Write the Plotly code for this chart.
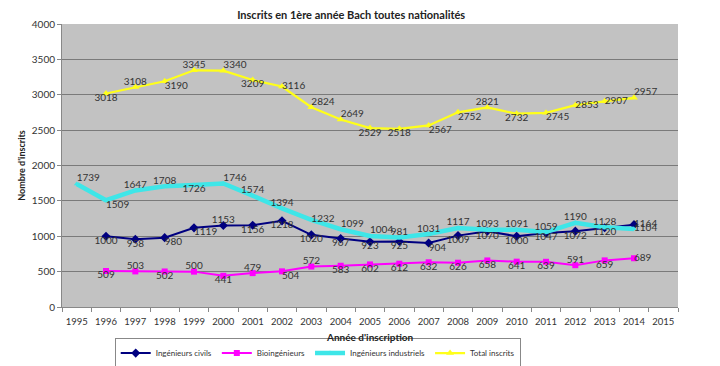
import plotly.graph_objects as go

years = [str(y) for y in range(1995, 2016)]
years_main = [str(y) for y in range(1996, 2015)]
years_ind = [str(y) for y in range(1995, 2015)]

civils = [1000, 958, 980, 1119, 1153, 1156, 1218, 1020, 967, 923, 925, 904, 1009, 1070, 1000, 1047, 1072, 1120, 1164]
bio = [509, 503, 502, 500, 441, 479, 504, 572, 583, 602, 612, 632, 626, 658, 641, 639, 591, 659, 689]
industriels = [1739, 1509, 1647, 1708, 1726, 1746, 1574, 1394, 1232, 1099, 1004, 981, 1031, 1117, 1093, 1091, 1059, 1190, 1128, 1104]
total = [3018, 3108, 3190, 3345, 3340, 3209, 3116, 2824, 2649, 2529, 2518, 2567, 2752, 2821, 2732, 2745, 2853, 2907, 2957]

B, T, R, BR, TR = "bottom center", "top center", "middle right", "bottom right", "top right"
pos_civils = [B, B, BR, BR, T, B, B, B, B, B, B, BR, B, B, B, B, B, B, R]
pos_bio = [B, T, B, T, B, T, BR, T, B, B, B, B, B, B, B, B, T, B, R]
pos_ind = [TR, BR, T, T, B, TR, T, T, R, TR, TR, T, T, T, T, T, T, T, T, R]
pos_total = [B, T, BR, T, TR, B, R, TR, TR, B, B, BR, BR, T, B, BR, R, R, TR]

series = [
    ("Ingénieurs civils", years_main, civils, pos_civils, "#000080", 2, "diamond", 7),
    ("Bioingénieurs", years_main, bio, pos_bio, "#ff00ff", 2, "square", 6),
    ("Ingénieurs industriels", years_ind, industriels, pos_ind, "#3ee6e8", 4.5, "triangle-up", 5),
    ("Total inscrits", years_main, total, pos_total, "#ffff1a", 2.2, "triangle-up", 7),
]

fig = go.Figure()
for name, xs, ys, pos, col, w, sym, ms in series:
    fig.add_trace(go.Scatter(
        x=xs, y=ys, name=name, mode="lines+markers",
        line=dict(color=col, width=w),
        marker=dict(symbol=sym, size=ms, color=col),
    ))
for name, xs, ys, pos, col, w, sym, ms in series:
    fig.add_trace(go.Scatter(
        x=xs, y=ys, mode="text", text=[str(v) for v in ys],
        textposition=pos, showlegend=False, hoverinfo="skip",
        textfont=dict(family="Lato, Open Sans, sans-serif", size=10, color="#333333"),
    ))

# page body adds an 8px offset; figure sized to fill the remaining window
fig.update_layout(
    width=712, height=358,
    margin=dict(l=54, r=42, t=16, b=59),
    paper_bgcolor="white",
    plot_bgcolor="#c2c2c2",
    title=dict(text="<b>Inscrits en 1ère année Bach toutes nationalités</b>",
               xref="container", x=0.482, xanchor="center",
               yref="container", y=0.99, yanchor="top", pad=dict(t=0, b=0),
               font=dict(family="Lato, Open Sans, sans-serif", size=11, color="#222222")),
    font=dict(family="Lato, Open Sans, sans-serif", size=10, color="#333333"),
    showlegend=True,
    legend=dict(orientation="h", xref="container", x=0.435, xanchor="center",
                yref="container", y=0.036, yanchor="middle",
                bordercolor="#888888", borderwidth=1, bgcolor="white",
                font=dict(size=8, color="#333333"), tracegroupgap=0, itemwidth=30,
                itemsizing="trace"),
    annotations=[dict(text="<b>Année d'inscription</b>", xref="paper", x=0.5, xanchor="center",
                      yref="paper", y=-0.106, yanchor="middle", showarrow=False,
                      font=dict(size=10, color="#222222"))],
)
fig.update_xaxes(
    type="category", categoryorder="array", categoryarray=years,
    range=[-0.5, 20.5], tickson="boundaries", ticks="outside", ticklen=4,
    tickcolor="#888888", showgrid=False, showline=True, linecolor="#888888",
    tickangle=0, tickfont=dict(size=9.5, color="#333333"), automargin=False,
    ticklabelstandoff=6,
)
fig.update_yaxes(
    range=[0, 4000], dtick=500, showgrid=True, gridcolor="#7a7a7a", gridwidth=1,
    zeroline=False, ticks="outside", ticklen=4, tickcolor="#888888",
    showline=True, linecolor="#888888", automargin=False,
    tickfont=dict(size=10, color="#333333"),
    title=dict(text="<b>Nombre d'inscrits</b>", font=dict(size=9, color="#222222"), standoff=4),
)

fig.write_html("out.html")
